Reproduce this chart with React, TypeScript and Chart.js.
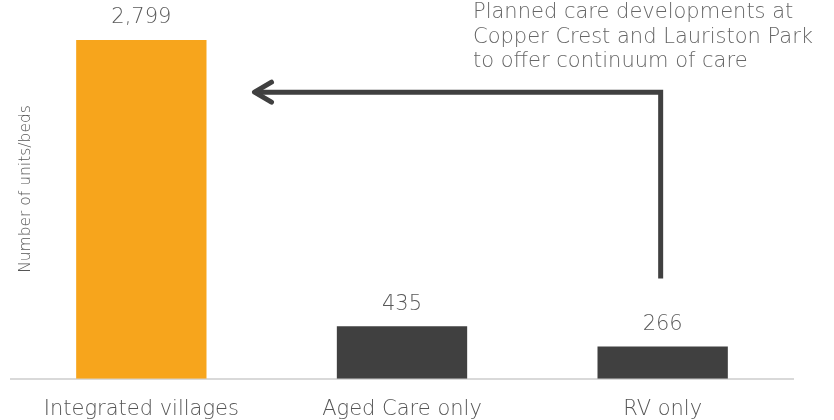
import React, { useEffect, useRef } from "react";
import { Chart, registerables } from "chart.js";

Chart.register(...registerables);

const categories = ["Integrated villages", "Aged Care only", "RV only"];
const values = [2799, 435, 266];
const valueLabels = ["2,799", "435", "266"];
const barColors = ["#F7A51C", "#404040", "#404040"];
const yAxisTitle = "Number of units/beds";
const noteLines = [
  "Planned care developments at",
  "Copper Crest and Lauriston Park",
  "to offer continuum of care",
];

const FONT = "'DejaVu Sans', sans-serif";

const overlay = {
  id: "overlay",
  afterDatasetsDraw(chart: any) {
    const { ctx, scales } = chart;
    const meta = chart.getDatasetMeta(0);
    ctx.save();
    // value labels
    ctx.fillStyle = "#595959";
    ctx.font = `200 21px ${FONT}`;
    ctx.textAlign = "center";
    ctx.textBaseline = "middle";
    meta.data.forEach((bar: any, i: number) => {
      ctx.fillText(valueLabels[i], bar.x, bar.y - 22);
    });
    // y axis title
    ctx.save();
    ctx.translate(26, 189);
    ctx.rotate(-Math.PI / 2);
    ctx.font = `200 15.5px ${FONT}`;
    ctx.fillStyle = "#555555";
    ctx.fillText(yAxisTitle, 0, 0);
    ctx.restore();
    // note text
    ctx.font = `200 21px ${FONT}`;
    ctx.fillStyle = "#666666";
    ctx.textAlign = "left";
    noteLines.forEach((l, i) => ctx.fillText(l, 473, 13 + i * 24.5));
    // arrow
    const b0 = meta.data[0];
    const b2 = meta.data[2];
    const ax = b2.x - 2;
    const ay = scales.y.getPixelForValue(2368);
    const startY = b2.y - 68;
    const tipX = b0.x + b0.width / 2 + 47;
    ctx.strokeStyle = "#404040";
    ctx.lineWidth = 5;
    ctx.lineJoin = "miter";
    ctx.beginPath();
    ctx.moveTo(ax, startY);
    ctx.lineTo(ax, ay);
    ctx.lineTo(tipX + 3, ay);
    ctx.stroke();
    ctx.lineCap = "round";
    ctx.lineJoin = "round";
    ctx.beginPath();
    ctx.moveTo(tipX + 18, ay - 10);
    ctx.lineTo(tipX + 1, ay);
    ctx.lineTo(tipX + 18, ay + 10);
    ctx.stroke();
    ctx.restore();
  },
};

export default function App() {
  const ref = useRef<HTMLCanvasElement>(null);
  useEffect(() => {
    const chart = new Chart(ref.current!, {
      type: "bar",
      data: {
        labels: categories,
        datasets: [
          {
            data: values,
            backgroundColor: barColors,
            categoryPercentage: 1,
            barPercentage: 0.5,
          },
        ],
      },
      options: {
        animation: false,
        responsive: true,
        maintainAspectRatio: false,
        layout: { padding: { left: 11, right: 41, top: 40, bottom: 0 } },
        plugins: { legend: { display: false }, tooltip: { enabled: false } },
        scales: {
          x: {
            grid: { display: false, drawTicks: false },
            border: { display: true, color: "#d9d9d9", width: 2 },
            ticks: {
              color: "#555555",
              font: { family: FONT, size: 21, weight: "200" as any },
              padding: 18,
              maxRotation: 0,
            },
          },
          y: {
            display: false,
            min: 0,
            max: Math.max(...values),
          },
        },
      },
      plugins: [overlay],
    });
    return () => chart.destroy();
  }, []);
  return (
    <div style={{ position: "fixed", left: 0, top: 0, width: 834, height: 440, background: "#fff" }}>
      <canvas ref={ref} />
    </div>
  );
}
